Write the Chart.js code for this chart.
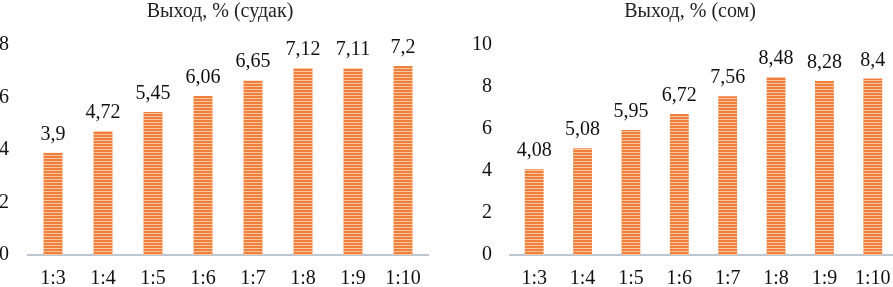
<!DOCTYPE html>
<html>
<head>
<meta charset="utf-8">
<script src="https://cdn.jsdelivr.net/npm/chart.js@4.4.1/dist/chart.umd.min.js"></script>
<style>
  body { margin: 0; width: 893px; height: 287px; overflow: hidden; background: #fff; position: relative; }
  canvas { position: absolute; top: 0; }
</style>
</head>
<body>
<canvas id="left" width="440" height="287" style="left:0"></canvas>
<canvas id="right" width="480" height="287" style="left:450px"></canvas>
<script>
// данные
var categories = ['1:3', '1:4', '1:5', '1:6', '1:7', '1:8', '1:9', '1:10'];
var sudakValues = [3.9, 4.72, 5.45, 6.06, 6.65, 7.12, 7.11, 7.2];
var somValues = [4.08, 5.08, 5.95, 6.72, 7.56, 8.48, 8.28, 8.4];
var sudakTitle = 'Выход, % (судак)';
var somTitle = 'Выход, % (сом)';

var FONT = '"Liberation Serif", "Times New Roman", serif';

// штриховка столбцов (горизонтальные полосы)
function stripePattern() {
  var c = document.createElement('canvas');
  c.width = 4; c.height = 3;
  var g = c.getContext('2d');
  g.fillStyle = '#EF7F3B'; g.fillRect(0, 0, 4, 2);
  g.fillStyle = '#F9C6A2'; g.fillRect(0, 2, 4, 1);
  return g.createPattern(c, 'repeat');
}

// подписи значений над столбцами + заголовок
var labelsPlugin = {
  id: 'valueLabels',
  afterDatasetsDraw: function(chart) {
    var ctx = chart.ctx;
    ctx.save();
    ctx.font = '20px ' + FONT;
    ctx.fillStyle = '#111';
    ctx.textAlign = 'center';
    ctx.textBaseline = 'alphabetic';
    var meta = chart.getDatasetMeta(0);
    meta.data.forEach(function(bar, i) {
      var v = chart.data.datasets[0].data[i];
      ctx.fillText(String(v).replace('.', ','), bar.x, bar.y - 13);
    });
    ctx.font = '20px ' + FONT;
    ctx.fillStyle = '#222';
    ctx.fillText(chart.options.myTitle, chart.width / 2, 17);
    ctx.restore();
  }
};

function makeChart(id, values, title, yMax, axisWidth, tickPad, padRight, barPct) {
  return new Chart(document.getElementById(id).getContext('2d'), {
    type: 'bar',
    data: {
      labels: categories,
      datasets: [{
        data: values,
        backgroundColor: stripePattern(),
        borderWidth: 0,
        barPercentage: barPct,
        categoryPercentage: 1
      }]
    },
    options: {
      responsive: false,
      animation: false,
      myTitle: title,
      layout: { padding: { top: 45, right: padRight, left: 0, bottom: 0 } },
      plugins: { legend: { display: false }, tooltip: { enabled: false } },
      scales: {
        x: {
          grid: { display: false, drawTicks: false },
          border: { display: true, color: '#BCC6D1', width: 2 },
          ticks: { color: '#111', font: { family: FONT, size: 20 }, padding: 12, maxRotation: 0 },
          afterFit: function(s) { s.height = 32; }
        },
        y: {
          min: 0, max: yMax,
          grid: { display: false, drawTicks: false },
          border: { display: false },
          ticks: { stepSize: 2, color: '#111', font: { family: FONT, size: 20 }, padding: tickPad },
          afterFit: function(s) { s.width = axisWidth; }
        }
      }
    },
    plugins: [labelsPlugin]
  });
}

makeChart('left', sudakValues, sudakTitle, 8, 28, 19, 12, 0.38);
makeChart('right', somValues, somTitle, 10, 60, 18, 33, 0.39);
</script>
</body>
</html>
